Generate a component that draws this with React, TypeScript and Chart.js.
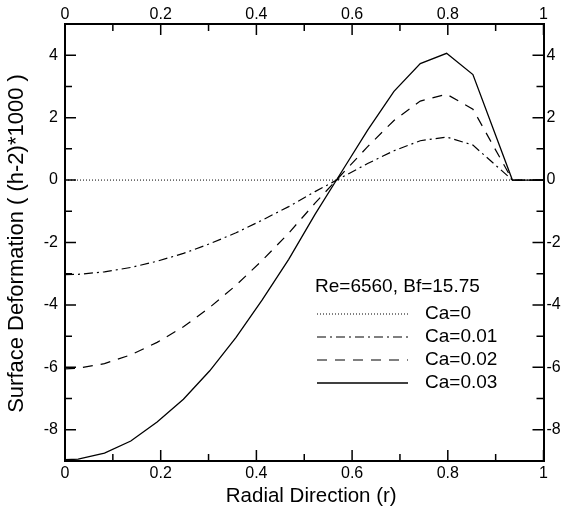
import { useEffect, useRef } from "react";
import { Chart, registerables } from "chart.js";

Chart.register(...registerables);

// Radial positions of the computed nodes (r), plus the wall point at r = 1
const radius = [0, 0.0275, 0.0825, 0.1375, 0.1925, 0.2475, 0.3025, 0.3575, 0.4125, 0.4675, 0.5225, 0.5775, 0.6325, 0.6875, 0.7425, 0.7975, 0.8525, 0.935, 1];

// Surface deformation (h-2)*1000 for each capillary number
const defCa0 = [0, 0, 0, 0, 0, 0, 0, 0, 0, 0, 0, 0, 0, 0, 0, 0, 0, 0, 0];
const defCa001 = [-3.03, -3.02, -2.94, -2.8, -2.6, -2.35, -2.04, -1.69, -1.28, -0.85, -0.37, 0.08, 0.53, 0.94, 1.26, 1.38, 1.12, 0, 0];
const defCa002 = [-6.05, -6.03, -5.88, -5.6, -5.2, -4.7, -4.08, -3.37, -2.57, -1.7, -0.74, 0.17, 1.07, 1.91, 2.53, 2.75, 2.27, 0, 0];
const defCa003 = [-8.96, -8.94, -8.75, -8.36, -7.75, -7.02, -6.11, -5.04, -3.83, -2.54, -1.1, 0.25, 1.6, 2.84, 3.73, 4.06, 3.38, 0, 0];

const seriesLabels = ["Ca=0", "Ca=0.01", "Ca=0.02", "Ca=0.03"];
const legendTitle = "Re=6560, Bf=15.75";

// Axis ticks
const xMajorTicks = [0, 0.2, 0.4, 0.6, 0.8, 1];
const xMinorTicks = [0.1, 0.3, 0.5, 0.7, 0.9];
const yMajorTicks = [-8, -6, -4, -2, 0, 2, 4];
const yMinorTicks = [-7, -5, -3, -1, 1, 3];

const xTitle = "Radial Direction (r)";
const yTitle = "Surface Deformation ( (h-2)*1000 )";

const FONT = "'Liberation Sans', Arial, Helvetica, sans-serif";

const dashStyles: number[][] = [[1, 2], [9, 4, 2, 4], [10, 8], []];
const widths = [1, 1.2, 1.2, 1.3];

const toPoints = (ys: number[]) => radius.map((x, i) => ({ x, y: ys[i] }));

// Inward tick marks on all four sides of the frame
const frameTicks = {
  id: "frameTicks",
  afterDraw(chart: any) {
    const { ctx, chartArea: a } = chart;
    const xs = chart.scales.x;
    const ys = chart.scales.y;
    ctx.save();
    ctx.strokeStyle = "#000";
    ctx.lineWidth = 1.5;
    ctx.setLineDash([]);
    const drawX = (v: number, len: number) => {
      const px = xs.getPixelForValue(v);
      ctx.beginPath();
      ctx.moveTo(px, a.bottom);
      ctx.lineTo(px, a.bottom - len);
      ctx.moveTo(px, a.top);
      ctx.lineTo(px, a.top + len);
      ctx.stroke();
    };
    const drawY = (v: number, len: number) => {
      const py = ys.getPixelForValue(v);
      ctx.beginPath();
      ctx.moveTo(a.left, py);
      ctx.lineTo(a.left + len, py);
      ctx.moveTo(a.right, py);
      ctx.lineTo(a.right - len, py);
      ctx.stroke();
    };
    xMajorTicks.forEach((v) => drawX(v, 11));
    xMinorTicks.forEach((v) => drawX(v, 7));
    yMajorTicks.forEach((v) => drawY(v, 11));
    yMinorTicks.forEach((v) => drawY(v, 7));
    ctx.restore();
  },
};

// Axis titles
const axisTitles = {
  id: "axisTitles",
  afterDraw(chart: any) {
    const { ctx, chartArea: a } = chart;
    ctx.save();
    ctx.fillStyle = "#000";
    ctx.textAlign = "center";
    ctx.textBaseline = "middle";
    ctx.font = `20.5px ${FONT}`;
    ctx.fillText(xTitle, (a.left + a.right) / 2 + 7, 496);
    ctx.translate(17, (a.top + a.bottom) / 2 + 1);
    ctx.rotate(-Math.PI / 2);
    ctx.font = `22px ${FONT}`;
    ctx.fillText(yTitle, 0, 0);
    ctx.restore();
  },
};

// Legend box with parameter heading and line samples
const sampleLegend = {
  id: "sampleLegend",
  afterDatasetsDraw(chart: any) {
    const { ctx } = chart;
    ctx.save();
    ctx.fillStyle = "#000";
    ctx.font = `19px ${FONT}`;
    ctx.textBaseline = "middle";
    ctx.textAlign = "left";
    ctx.fillText(legendTitle, 315, 287);
    seriesLabels.forEach((label, i) => {
      const y = 314 + i * 23;
      ctx.beginPath();
      ctx.strokeStyle = "#000";
      ctx.lineWidth = widths[i];
      ctx.setLineDash(dashStyles[i]);
      ctx.moveTo(317, y);
      ctx.lineTo(408, y);
      ctx.stroke();
      ctx.setLineDash([]);
      ctx.fillText(label, 425, y);
    });
    ctx.restore();
  },
};

export default function App() {
  const canvasRef = useRef<HTMLCanvasElement | null>(null);

  useEffect(() => {
    if (!canvasRef.current) return;
    const series = [defCa0, defCa001, defCa002, defCa003];
    const tickFont = { family: FONT, size: 16 };
    const border = { display: true, color: "#000", width: 2 };
    const noGrid = { display: false, drawTicks: false, drawOnChartArea: false };
    const fmt = (v: any) => String(Number(v));

    const chart = new Chart(canvasRef.current, {
      type: "line",
      data: {
        datasets: series.map((ys, i) => ({
          label: seriesLabels[i],
          data: toPoints(ys),
          borderColor: "#000",
          borderWidth: widths[i],
          borderDash: dashStyles[i],
          pointRadius: 0,
          fill: false,
          tension: 0,
          xAxisID: "x",
          yAxisID: "y",
        })),
      },
      options: {
        animation: false,
        responsive: false,
        devicePixelRatio: 1,
        layout: { padding: 0 },
        plugins: { legend: { display: false }, tooltip: { enabled: false } },
        scales: {
          x: {
            type: "linear",
            position: "bottom",
            min: 0,
            max: 1,
            border,
            grid: noGrid,
            afterBuildTicks: (s: any) => { s.ticks = xMajorTicks.map((value) => ({ value })); },
            afterFit: (s: any) => { s.height = 51; },
            ticks: { font: tickFont, color: "#000", padding: 3, maxRotation: 0, autoSkip: false, callback: fmt },
          },
          x2: {
            type: "linear",
            position: "top",
            min: 0,
            max: 1,
            border,
            grid: noGrid,
            afterBuildTicks: (s: any) => { s.ticks = xMajorTicks.map((value) => ({ value })); },
            afterFit: (s: any) => { s.height = 24; },
            ticks: { font: tickFont, color: "#000", padding: 0, maxRotation: 0, autoSkip: false, callback: fmt },
          },
          y: {
            type: "linear",
            position: "left",
            min: -9,
            max: 5,
            border,
            grid: noGrid,
            afterBuildTicks: (s: any) => { s.ticks = yMajorTicks.map((value) => ({ value })); },
            afterFit: (s: any) => { s.width = 65; },
            ticks: { font: tickFont, color: "#000", padding: 7, autoSkip: false, callback: fmt },
          },
          y2: {
            type: "linear",
            position: "right",
            min: -9,
            max: 5,
            border,
            grid: noGrid,
            afterBuildTicks: (s: any) => { s.ticks = yMajorTicks.map((value) => ({ value })); },
            afterFit: (s: any) => { s.width = 21.5; },
            ticks: { font: tickFont, color: "#000", padding: 3, autoSkip: false, callback: fmt },
          },
        },
      },
      plugins: [frameTicks, axisTitles, sampleLegend],
    } as any);

    return () => chart.destroy();
  }, []);

  return (
    <div style={{ position: "absolute", left: 0, top: 0, width: 565, height: 512, background: "#fff" }}>
      <canvas ref={canvasRef} width={565} height={512} />
    </div>
  );
}
